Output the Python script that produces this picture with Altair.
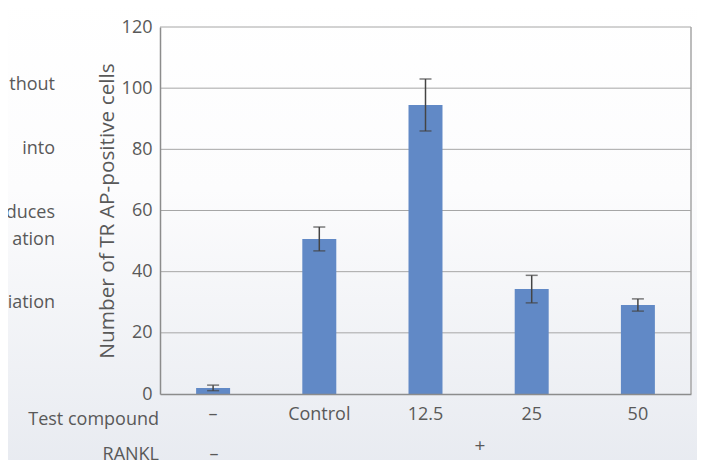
import altair as alt
import pandas as pd

categories = ["–", "Control", "12.5", "25", "50"]
values = [2.0, 50.7, 94.5, 34.3, 29.1]
errors = [0.9, 3.9, 8.5, 4.5, 2.0]
y_ticks = [0, 20, 40, 60, 80, 100, 120]

side_texts = ["thout", "into", "duces", "ation", "iation"]
side_y = [85, 149, 213, 240, 303]

df = pd.DataFrame({"cat": categories, "val": values, "err": errors})
df["lo"] = df["val"] - df["err"]
df["hi"] = df["val"] + df["err"]

FONT = "Open Sans"
GREY = "#595959"
LINE = "#a6a6a6"

y_scale = alt.Scale(domain=[0, 120], nice=False)
y_axis = alt.Axis(values=y_ticks, title="Number of TR AP-positive cells",
                  titleFontSize=20.8, titleFont=FONT, titleColor=GREY, titleFontWeight="normal",
                  titlePadding=4, labelFontSize=18, labelFont=FONT, labelColor=GREY,
                  ticks=False, labelPadding=8, grid=False,
                  domain=True, domainColor="#8c8c8c", domainWidth=1.5, zindex=1)

bg = alt.Chart(pd.DataFrame({"a": [0]})).mark_rect(
    clip=False,
    color=alt.LinearGradient(gradient="linear", x1=0, x2=0, y1=0, y2=1,
                             stops=[alt.GradientStop(offset=0, color="#ffffff"),
                                    alt.GradientStop(offset=0.4, color="#fcfcfd"),
                                    alt.GradientStop(offset=1, color="#e7eaf0")])
).encode(x=alt.value(-160), x2=alt.value(560), y=alt.value(-30), y2=alt.value(450))

grid = alt.Chart(pd.DataFrame({"g": y_ticks[1:]})).mark_rule(color=LINE, strokeWidth=1).encode(
    y=alt.Y("g:Q", scale=y_scale, axis=y_axis)
)
right_border = alt.Chart(pd.DataFrame({"a": [0]})).mark_rule(color=LINE, strokeWidth=1.5).encode(
    x=alt.value(531), y=alt.value(0), y2=alt.value(367)
)

bars = alt.Chart(df).mark_bar(color="#6189c6").encode(
    x=alt.X("cat:N", sort=categories, scale=alt.Scale(paddingInner=0.68, paddingOuter=0.34),
            axis=alt.Axis(title=None, ticks=False, labelPadding=11, labelFontSize=18,
                          labelColor=GREY, labelFont=FONT, domain=True, domainColor="#8c8c8c",
                          domainWidth=1.5, labelAngle=0, zindex=1)),
    y=alt.Y("val:Q", scale=y_scale, axis=y_axis),
)

err = alt.Chart(df).mark_errorbar(ticks=alt.MarkConfig(size=12, color="#444444", strokeWidth=1.5),
                                  color="#444444", thickness=1.5).encode(
    x=alt.X("cat:N", sort=categories),
    y=alt.Y("lo:Q", scale=y_scale, axis=y_axis),
    y2="hi:Q",
)

row1 = alt.Chart(pd.DataFrame({"t": ["Test compound"]})).mark_text(
    align="right", baseline="middle", fontSize=18, font=FONT, color=GREY
).encode(text="t:N", x=alt.value(-1), y=alt.value(393))

row2_lbl = alt.Chart(pd.DataFrame({"t": ["RANKL"]})).mark_text(
    align="right", baseline="middle", fontSize=18, font=FONT, color=GREY
).encode(text="t:N", x=alt.value(-1), y=alt.value(428))

row2_minus = alt.Chart(pd.DataFrame({"t": ["–"]})).mark_text(
    align="center", baseline="middle", fontSize=18, font=FONT, color=GREY
).encode(text="t:N", x=alt.value(54), y=alt.value(428))

row2_plus = alt.Chart(pd.DataFrame({"t": ["+"]})).mark_text(
    align="center", baseline="middle", fontSize=19, font=FONT, color=GREY
).encode(text="t:N", x=alt.value(320), y=alt.value(419))

side = alt.Chart(pd.DataFrame({"t": side_texts, "py": [v - 27 for v in side_y]})).mark_text(
    align="right", baseline="middle", fontSize=18, font=FONT, color=GREY
).encode(text="t:N", x=alt.value(-105), y=alt.Y("py:Q", scale=None))

chart = alt.layer(bg, grid, right_border, bars, err, row1, row2_lbl, row2_minus, row2_plus, side).properties(
    width=531, height=367,
    padding={"left": 152, "top": 19, "right": 6, "bottom": 66},
    autosize=alt.AutoSizeParams(type="none"),
    background="#e9ecf1",
).configure_view(strokeWidth=0)

chart.save("out.html", embed_options={"renderer": "svg", "actions": False})
